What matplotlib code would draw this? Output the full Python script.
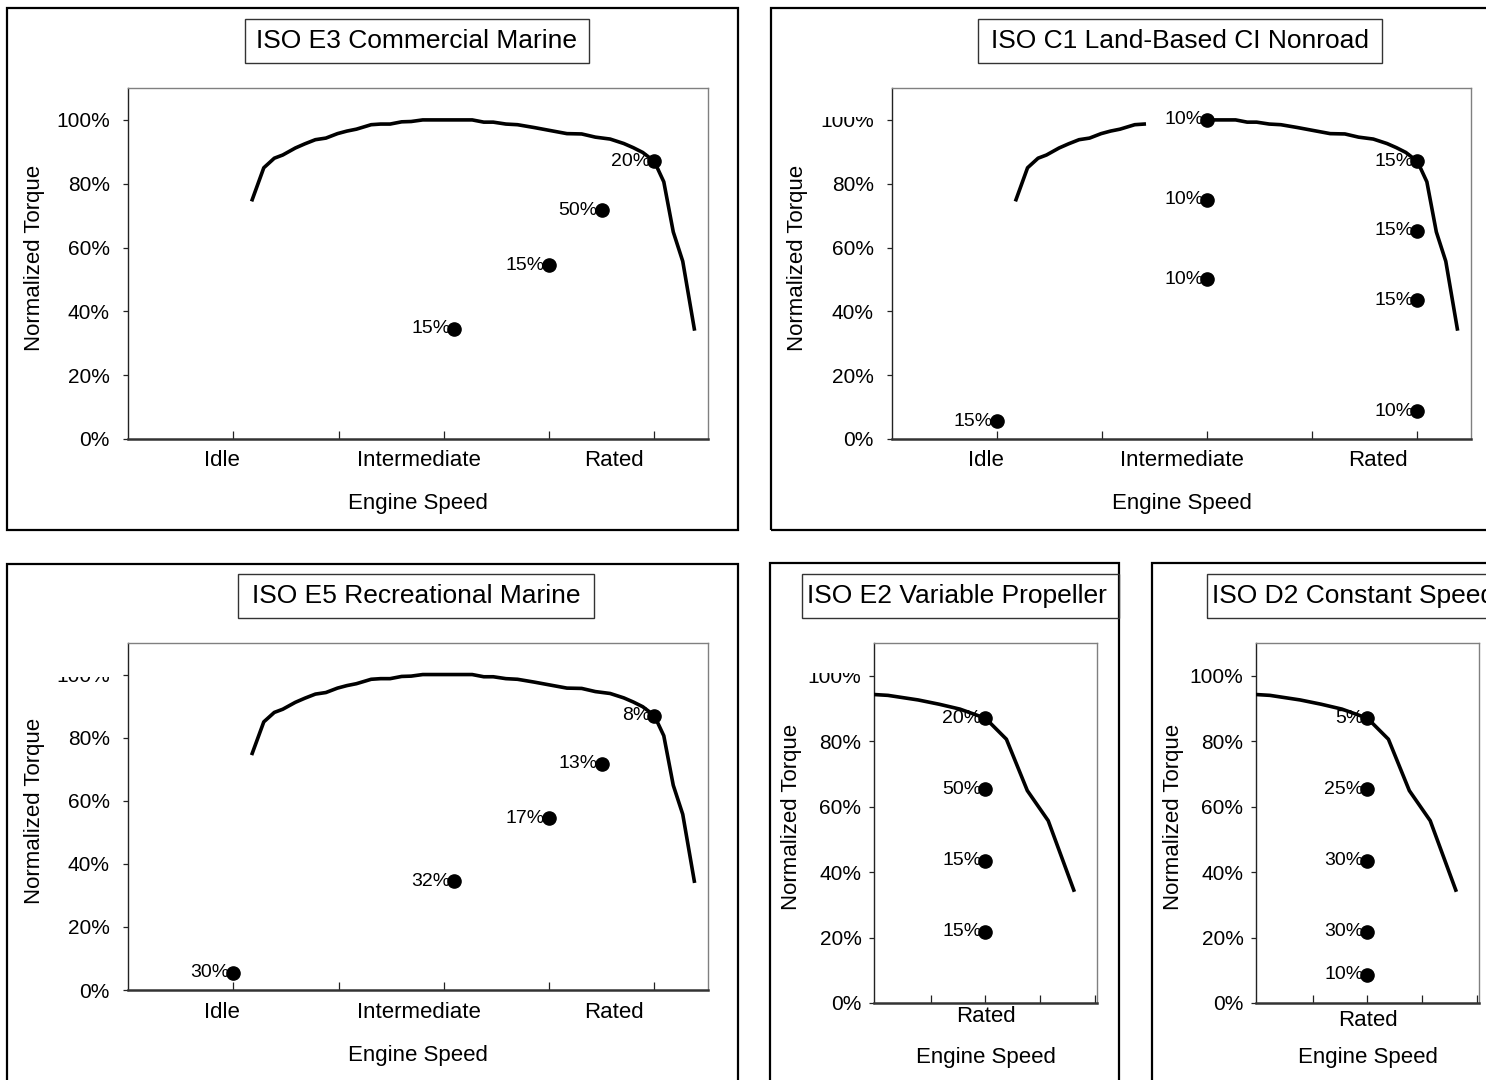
import numpy as np
import matplotlib
matplotlib.use("Agg")
import matplotlib.pyplot as plt
from matplotlib.patches import Rectangle
from matplotlib.transforms import Bbox, TransformedBbox

plt.rcParams['font.family'] = ['Liberation Sans', 'DejaVu Sans']

# ---------------- data ----------------
# full-load torque curve (engine speed in axis units, normalized torque in %)
curve_speed = [1.18, 1.29, 1.39, 1.47, 1.59, 1.68, 1.78, 1.88, 1.99, 2.08, 2.17, 2.31,
               2.40, 2.49, 2.60, 2.69, 2.80, 2.91, 3.00, 3.27, 3.38, 3.47, 3.59, 3.70,
               3.86, 3.99, 4.17, 4.31, 4.44, 4.58, 4.71, 4.80, 4.89, 5.00, 5.09, 5.18,
               5.27, 5.38]
curve_torque = [75, 85, 88, 89, 91.2, 92.5, 93.8, 94.3, 95.7, 96.5, 97.1, 98.5,
                98.7, 98.7, 99.4, 99.5, 100, 100, 100, 100, 99.3, 99.3, 98.7, 98.5,
                97.6, 96.8, 95.7, 95.6, 94.6, 94.0, 92.6, 91.3, 89.8, 87.0, 80.6, 64.9,
                55.7, 34.5]
c1_curve_gap = (2.40, 3.00)   # part of the curve hidden behind the label in C1

e3_speed = [3.1, 4.0, 4.5, 5.0]
e3_torque = [34.5, 54.4, 71.7, 87.0]
e3_weight = ["15%", "15%", "50%", "20%"]

c1_speed = [1.0, 3.0, 3.0, 3.0, 5.0, 5.0, 5.0, 5.0]
c1_torque = [5.5, 100, 75, 50, 87.0, 65.25, 43.5, 8.7]
c1_weight = ["15%", "10%", "10%", "10%", "15%", "15%", "15%", "10%"]

e5_speed = [1.0, 3.1, 4.0, 4.5, 5.0]
e5_torque = [5.5, 34.5, 54.4, 71.7, 87.0]
e5_weight = ["30%", "32%", "17%", "13%", "8%"]

e2_speed = [5.0, 5.0, 5.0, 5.0]
e2_torque = [87.0, 65.25, 43.5, 21.75]
e2_weight = ["20%", "50%", "15%", "15%"]

d2_speed = [5.0, 5.0, 5.0, 5.0, 5.0]
d2_torque = [87.0, 65.25, 43.5, 21.75, 8.7]
d2_weight = ["5%", "25%", "30%", "30%", "10%"]

wide_categories = ["Idle", "Intermediate", "Rated"]
wide_category_pos = [0.89, 2.76, 4.62]
wide_xticks = [1, 2, 3, 4, 5]
narrow_categories = ["Rated"]
narrow_category_pos = [5.0]
narrow_xticks = [4.765, 5.0, 5.235, 5.47]
yticks = [0, 20, 40, 60, 80, 100]
ytick_labels = ["0%", "20%", "40%", "60%", "80%", "100%"]

# ---------------- layout ----------------
W, H = 1486, 1080
fig = plt.figure(figsize=(W / 100, H / 100), dpi=100)


def frac_rect(x0, y0, x1, y1):
    return (x0 / W, 1 - y1 / H, (x1 - x0) / W, (y1 - y0) / H)


def box(x0, y0, x1, y1, lw=1.5, color="black", z=0):
    l, b, w, h = frac_rect(x0, y0, x1, y1)
    fig.patches.append(Rectangle((l, b), w, h, transform=fig.transFigure,
                                 fill=False, edgecolor=color, linewidth=lw, zorder=z))


def clip_top_label(ax, clip_y):
    """Clip the 100% tick label above pixel row clip_y (as in the source)."""
    ax.figure.canvas.draw()
    lab = ax.yaxis.get_major_ticks()[-1].label1
    bb = TransformedBbox(Bbox.from_extents(0, 0, 1, 1 - clip_y / H), fig.transFigure)
    lab.set_clip_box(bb)
    lab.set_clip_on(True)


def panel(outer, title_box, title, title_align, axes_px, xlim, xticks,
          cats, cat_pos, cat_dy, speed, torque, weights, ylab_dx, ytick_pad,
          xlabel_dy, curve_gap=None):
    box(*outer, lw=1.6)
    box(*title_box, lw=1.0, color="#333333")
    tx0, ty0, tx1, ty1 = title_box
    if title_align == "center":
        fig.text(((tx0 + tx1) / 2) / W, 1 - ((ty0 + ty1) / 2) / H, title,
                 ha="center", va="center", fontsize=19)
    else:
        fig.text((tx0 + 5) / W, 1 - ((ty0 + ty1) / 2) / H, title,
                 ha="left", va="center", fontsize=19)

    ax = fig.add_axes(frac_rect(*axes_px))
    cs = np.array(curve_speed, dtype=float)
    ct = np.array(curve_torque, dtype=float)
    if curve_gap is not None:
        ct = np.where((cs > curve_gap[0]) & (cs < curve_gap[1]), np.nan, ct)
    ax.plot(cs, ct, color="black", lw=2.6, solid_joinstyle="round", zorder=3)
    ax.plot(speed, torque, "o", color="black", markersize=9.5, zorder=5)
    for s, t, w in zip(speed, torque, weights):
        ax.annotate(w, xy=(s, t), xytext=(-4, 0), textcoords="offset pixels",
                    ha="right", va="center", fontsize=14, zorder=4)

    ax.set_xlim(*xlim)
    ax.set_ylim(0, 110)
    ax.set_xticks(xticks)
    ax.set_xticklabels([])
    ax.set_yticks(yticks)
    ax.set_yticklabels(ytick_labels, fontsize=15)
    ax.tick_params(axis="x", direction="in", length=6, width=0.9, color="#222222")
    ax.tick_params(axis="y", direction="out", length=3.5, width=0.9, pad=ytick_pad,
                   color="#222222")
    for side in ("top", "right"):
        ax.spines[side].set_color("#808080")
        ax.spines[side].set_linewidth(1.0)
    ax.spines["left"].set_color("#222222")
    ax.spines["left"].set_linewidth(1.0)
    ax.spines["bottom"].set_color("#333333")
    ax.spines["bottom"].set_linewidth(1.8)

    for c, p in zip(cats, cat_pos):
        ax.annotate(c, xy=(p, 0), xycoords=("data", "axes fraction"),
                    xytext=(0, cat_dy), textcoords="offset pixels",
                    ha="center", va="center", fontsize=16)
    ax.annotate("Engine Speed", xy=(0.5, 0), xycoords="axes fraction",
                xytext=(0, xlabel_dy), textcoords="offset pixels",
                ha="center", va="center", fontsize=16)
    ax.annotate("Normalized Torque", xy=(0, 0.5), xycoords="axes fraction",
                xytext=(ylab_dx, 6), textcoords="offset pixels",
                ha="center", va="center", rotation=90, fontsize=16)
    return ax


ax1 = panel((7, 8, 738, 530), (245, 19, 589, 63), "ISO E3 Commercial Marine", "center",
            (128, 88, 708, 439), (0, 5.51), wide_xticks,
            wide_categories, wide_category_pos, -21, e3_speed, e3_torque, e3_weight,
            -93, 9.5, -64)

ax2 = panel((771, 8, 1520, 530), (978, 19, 1382, 63), "ISO C1 Land-Based CI Nonroad",
            "center", (892, 88, 1471, 439), (0, 5.51), wide_xticks,
            wide_categories, wide_category_pos, -21, c1_speed, c1_torque, c1_weight,
            -94, 9.5, -64, curve_gap=c1_curve_gap)

ax3 = panel((7, 564, 738, 1110), (238, 574, 594, 618), "ISO E5 Recreational Marine",
            "center", (128, 643, 708, 990), (0, 5.51), wide_xticks,
            wide_categories, wide_category_pos, -22, e5_speed, e5_torque, e5_weight,
            -93, 9.5, -65)

ax4 = panel((770, 563, 1119, 1110), (802, 574, 1119, 618), "ISO E2 Variable Propeller",
            "left", (874, 643, 1097, 1003), (4.52, 5.48), narrow_xticks,
            narrow_categories, narrow_category_pos, -13, e2_speed, e2_torque, e2_weight,
            -82, 5.5, -55)

ax5 = panel((1152, 563, 1600, 1110), (1207, 574, 1600, 618), "ISO D2 Constant Speed",
            "left", (1256, 643, 1479, 1003), (4.52, 5.48), narrow_xticks,
            narrow_categories, narrow_category_pos, -17, d2_speed, d2_torque, d2_weight,
            -83, 5.5, -55)

# the 100% labels are partly cut off in the source picture
clip_top_label(ax2, 117)
clip_top_label(ax3, 677)
clip_top_label(ax4, 673)

fig.savefig("out.png", dpi=100)
